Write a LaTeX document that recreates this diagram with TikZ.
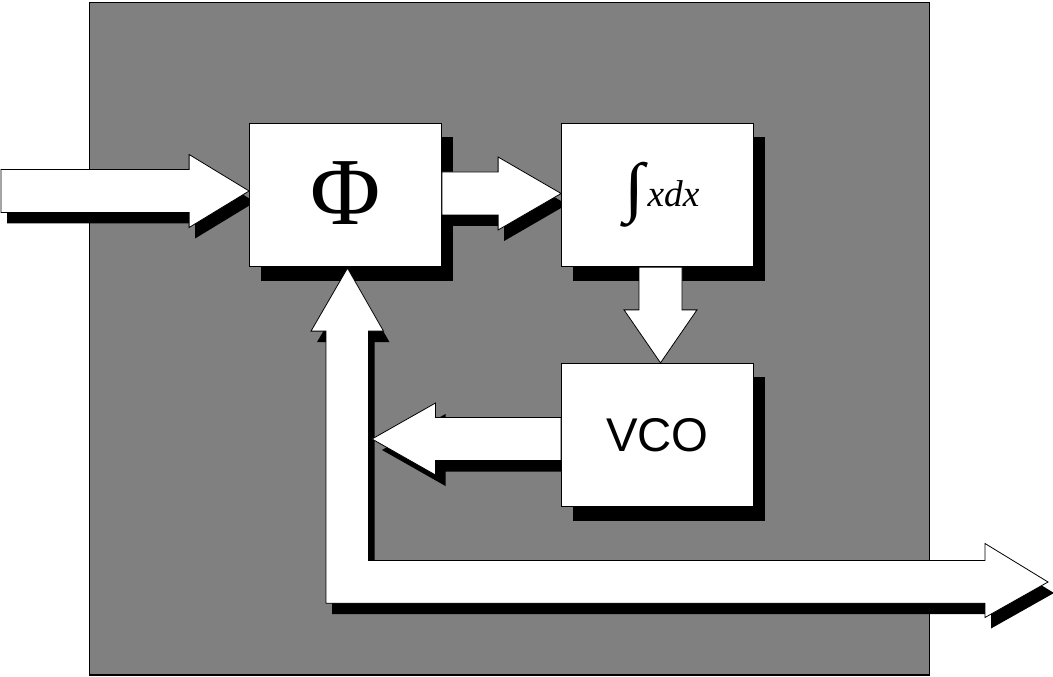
\documentclass[tikz,border=0pt]{standalone}
\usepackage{fontspec}
\setmainfont{Liberation Serif}
\newfontfamily\vcofont{Liberation Sans}
\usepackage{graphicx}
\definecolor{PLLGray}{HTML}{808080}
\usepackage{tikz}
\usetikzlibrary{positioning,calc,shadows,backgrounds}
\tikzset{
  pllbox/.style={draw=black, fill=white, line width=0.6pt, inner sep=0pt,
    minimum width=144pt, minimum height=107.6pt,
    drop shadow={shadow xshift=8.6pt, shadow yshift=-10.5pt, fill=black, opacity=1}},
  arrowbody/.style={draw=black, fill=white, line width=0.6pt, line join=miter}
}
\newcommand{\shadedarrow}[2][6]{%
  \begin{scope}[on background layer]
    \fill[black, transform canvas={xshift=#1*0.75pt, yshift=-8.25pt}] #2;
  \end{scope}
  \filldraw[arrowbody] #2;
}
\newcommand{\bigint}{\raisebox{-17.5pt}{\resizebox*{15pt}{48.8pt}{\raisebox{\depth}{∫}}}}

\begin{document}
\begin{tikzpicture}[x=0.75pt, y=-0.75pt]
    \useasboundingbox (0,0) rectangle (1053,677);
    \begin{scope}[on background layer]
      \filldraw[fill=PLLGray, draw=black, line width=0.8pt] (89.5,2.7) rectangle (929.5,675);
    \end{scope}
    \node[pllbox] (phi) at (345.5,195) {\fontsize{72}{80}\selectfont\raisebox{2.5pt}{Φ}};
    \node[pllbox] (integ) at (657.5,195) {\fontsize{28}{34}\selectfont\hspace*{7pt}\bigint\hspace{2pt}\raisebox{-2pt}{\textit{xdx}}};
    \node[pllbox] (vco) at (657.5,435) {\vcofont\fontsize{35.5}{40}\selectfont VCO};
    \coordinate (in) at (1,191);
    \coordinate (merge) at (372,439);
    \coordinate (out) at (1048,582);
    \shadedarrow{($(phi.west)+(0,-4)$) -- ++(-60,36.5) -- ++(0,-15) -- ($(in)+(0,21.5)$) -- ($(in)+(0,-21.5)$) -- ($(phi.west)+(-60,-25.5)$) -- ++(0,-15) -- cycle}
    \shadedarrow{($(integ.west)+(0,-1.5)$) -- ++(-63,36.5) -- ++(0,-15) -- ($(phi.east)+(0,20)$) -- ($(phi.east)+(0,-23)$) -- ($(integ.west)+(-63,-23)$) -- ++(0,-15) -- cycle}
    \filldraw[arrowbody] ($(vco.north)+(3,0)$) -- ++(-36.5,-53) -- ++(15,0) -- ($(integ.south)+(-18.5,0)$) -- ($(integ.south)+(24.5,0)$) -- ($(vco.north)+(24.5,-53)$) -- ++(15,0) -- cycle;
    \shadedarrow[10]{(merge) -- ++(63.5,-36) -- ++(0,14.5) -- ($(vco.west)+(0,-17.5)$) -- ($(vco.west)+(0,25.5)$) -- ($(merge)+(63.5,21.5)$) -- ++(0,14.5) -- cycle}
    \shadedarrow{($(phi.south)+(2,1)$) -- ++(36,63) -- ++(-15,0) |- ($(out)+(-63,-21.5)$) -- ++(0,-17) -- (out) -- ++(-63,35.5) -- ++(0,-14.3) -| ($(phi.south)+(-19.5,64)$) -- ++(-15,0) -- cycle}
  \end{tikzpicture}
\end{document}
